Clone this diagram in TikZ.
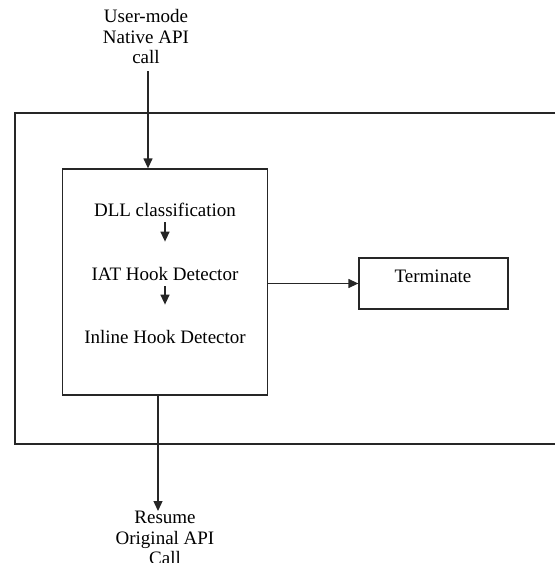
\documentclass[tikz,border=0pt]{standalone}
\usepackage{fontspec}
\setmainfont{Liberation Serif}
\usepackage{tikz}
\usetikzlibrary{calc}
\usetikzlibrary{arrows.meta,positioning}
\tikzset{
  txt/.style={inner sep=0pt,align=center,font=\fontsize{19}{20.5}\selectfont},
  box/.style={draw=black!85,line width=1.3pt,inner sep=0pt},
  arr/.style={draw=black!85,line width=1.3pt,-{Triangle[length=10pt,width=9pt]}}
}

\begin{document}
\begin{tikzpicture}[x=1pt,y=-1pt]
        \useasboundingbox (0,0) rectangle (555,563);
        % outer frame, open on the right
        \coordinate (ftr) at (555,113);
        \coordinate (fbr) at (555,444);
        \draw[black!85,line width=1.3pt] (ftr) -- (15,113) -- (15,444) -- (fbr);
        \node[txt,anchor=south] (usr) at (146,64) {User-mode\\Native API\\call};
        \node[box,minimum width=205pt,minimum height=226pt] (det) at (165,282) {};
        \node[txt,anchor=base] (dll) at (165,216) {DLL classification};
        \node[txt,anchor=base] (iat) at (165,280) {IAT Hook Detector};
        \node[txt,anchor=base] (inl) at (165,343) {Inline Hook Detector};
        \node[box,minimum width=149pt,minimum height=51pt] (term) at (433.5,283.5) {};
        \node[txt,anchor=base] (termtxt) at (433,282) {Terminate};
        \node[txt,anchor=north] (res) at (165,511) {Resume\\Original API\\Call};
        \draw[arr,shorten <=7pt] ([xshift=2pt]usr.south) -- ([xshift=2pt]usr.south |- det.north);
        \draw[arr,shorten <=6pt,shorten >=25pt] (dll.south) -- (iat.north);
        \draw[arr,shorten <=6pt,shorten >=25pt] (iat.south) -- (inl.north);
        \draw[arr] (det.east |- term.west) -- (term.west);
        \draw[arr] ([xshift=-7pt]det.south) -- ([xshift=-7pt]det.south |- res.north);
      \end{tikzpicture}
\end{document}
